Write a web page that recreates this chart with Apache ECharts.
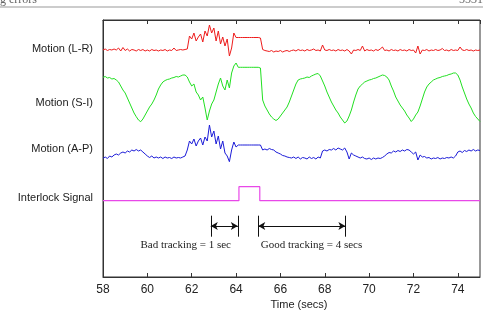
<!DOCTYPE html>
<html>
<head>
<meta charset="utf-8">
<script src="https://cdn.jsdelivr.net/npm/echarts@6/dist/echarts.min.js"></script>
<style>
  html, body { margin: 0; padding: 0; background: #fff; }
  #chart { width: 483px; height: 311px; }
</style>
</head>
<body>
<div id="chart"></div>
<script>
// 数据：每 0.1 s 一个采样点，58.0 ~ 75.0 s，纵坐标为图上读出的道内高度
var redMotion = [
  227, 228, 226.5, 227.5, 227, 228, 227, 229, 226, 229.5,
  226.5, 228, 226, 227.5, 227, 226, 227.5, 226.5, 227.5, 226,
  227, 226, 227.5, 226.5, 227, 226, 227, 226.5, 227.5, 226,
  227, 226.5, 229, 226.5, 227, 227.5, 227, 227.5, 228, 241,
  238, 244, 236, 240, 243, 235, 246, 241, 252, 244,
  249, 236, 246, 233, 240, 231, 238, 221, 229, 244,
  239.5, 239.5, 239.5, 239.5, 239.5, 239.5, 239.5, 239.5, 239.5, 239.5,
  239.5, 239, 227.5, 226.5, 226, 225.5, 226.5, 225, 226, 225.5,
  226.5, 225, 226, 226.5, 225.5, 226.5, 227, 226, 227.5, 226.5,
  227, 226, 227.5, 226.5, 227, 228, 226.5, 227, 226, 232,
  227, 226.5, 227.5, 226.5, 227, 226, 227.5, 226.5, 227, 226,
  227.5, 226, 223, 227, 226.5, 227.5, 226.5, 231, 226, 227.5,
  226.5, 227, 226, 227.5, 226.5, 228, 230, 226.5, 227, 226,
  227.5, 226.5, 227, 226, 227.5, 226.5, 227, 226, 227.5, 226.5,
  227, 224, 231, 223, 227, 226.5, 227.5, 226, 227, 226.5,
  227.5, 226.5, 227, 228.5, 226.5, 227, 226, 227.5, 226.5, 227,
  226.5, 230, 227, 226.5, 227.5, 226.5, 227, 226, 227, 226.5,
  227
];
var greenMotion = [
  199.7, 200.5, 199, 199.5, 198, 198.5, 197, 195, 191, 187,
  184, 179, 174, 169, 164, 160.3, 157, 155.3, 158, 162,
  166, 170, 173, 177, 182, 188, 192, 195, 196.5, 197.5,
  198, 199, 199.5, 200.5, 200, 201, 202, 202, 200, 195,
  191, 193, 185, 182, 177, 180, 169, 157, 166, 173,
  177, 185, 193, 199, 191, 187, 197, 189, 204, 211,
  214, 209.7, 209.7, 209.7, 209.7, 209.7, 209.7, 209.7, 209.7, 209.7,
  209.7, 209, 177, 171, 167, 163, 160, 158, 156.5, 158,
  161, 164, 167, 170, 175, 181, 187, 193, 197, 198,
  198.5, 199, 200, 199.5, 201, 202, 203, 203.5, 201, 196,
  191, 185, 180, 175, 171, 167, 164, 160, 157, 154,
  156, 161, 167, 175, 182, 188, 191, 193, 195, 196,
  197, 197.5, 198.5, 199, 200, 201, 202, 201.5, 200, 197,
  191, 186, 180, 176, 172, 169, 166, 162, 159, 155.5,
  158, 162, 165, 171, 178, 185, 190, 193, 195, 197,
  198, 199, 199.5, 200.5, 201, 201.5, 202.5, 203, 204, 204,
  202, 197, 190, 184, 178, 173, 169, 164, 160.5, 158,
  155.5
];
var blueMotion = [
  118.7, 120, 118.5, 121, 120, 122, 123, 122, 124, 125,
  124, 126, 125, 127, 126, 127.5, 126, 127, 125, 123,
  121, 119.5, 121, 119, 120, 119, 120, 118.5, 120, 119,
  119.5, 118.5, 120, 119, 119.5, 119, 120, 121, 127, 136,
  133, 138, 131, 136, 139, 132, 140, 136, 152, 140,
  146, 133, 141, 128, 136, 124, 121, 115.3, 127, 135,
  130, 132, 132, 132, 132, 132, 132, 132, 132, 132,
  132, 132, 127, 128, 127, 128.5, 127.5, 127, 125, 124,
  123, 121.5, 121, 120, 119.5, 119, 120, 118.5, 120, 118,
  119.5, 119, 118, 120, 118.5, 119.5, 118, 120, 119, 126,
  127, 126, 127.5, 127, 128.5, 127, 129, 128, 127, 129,
  125, 118, 124, 122, 121, 120, 119, 120, 118.5, 118,
  119, 117.5, 119, 118, 119, 118.5, 119.5, 121, 123, 124.5,
  124, 126, 125, 126.5, 125.5, 127, 126, 127.5, 127, 125,
  123, 125, 117, 122, 120, 120.5, 119, 119.5, 118, 119,
  118.5, 119.5, 118, 119, 118.5, 119.5, 119, 120, 119, 121,
  125, 126, 124.5, 126.5, 125.5, 127, 126, 127.5, 126, 127,
  126.5
];
// 联锁信号（阶跃）
var interlockTime = [58, 64.13, 64.13, 65.07, 65.07, 75];
var interlockValue = [76.3, 76.3, 90.3, 90.3, 76.3, 76.3];
// 标注区间
var badTracking = [62.86, 64.08];
var goodTracking = [65.0, 68.93];
var trackLabels = ['Motion (L-R)', 'Motion (S-I)', 'Motion (A-P)', 'Interlock Signal'];

// 采样时间
var times = redMotion.map(function (v, i) { return +(58 + i * 0.1).toFixed(1); });
function pairs(xs, ys) { return xs.map(function (x, i) { return [x, ys[i]]; }); }

var chart = echarts.init(document.getElementById('chart'));

var barTop = 61.3, barBottom = 40.3, arrowY = 51;
function bracket(range) {
  return [
    [{ coord: [range[0], barBottom], symbol: 'none' }, { coord: [range[0], barTop], symbol: 'none' }],
    [{ coord: [range[1], barBottom], symbol: 'none' }, { coord: [range[1], barTop], symbol: 'none' }],
    [{ coord: [range[0], arrowY], symbol: 'arrow' }, { coord: [range[1], arrowY], symbol: 'arrow' }]
  ];
}

var axisFont = 'Liberation Sans, Arial, sans-serif';
var lineBase = { type: 'line', showSymbol: false, symbol: 'none', sampling: null, silent: true };

var option = {
  animation: false,
  backgroundColor: '#fff',
  grid: { left: 103, right: 3, top: 20, bottom: 34, show: true, borderColor: '#333', borderWidth: 1, outerBoundsMode: 'none' },
  xAxis: [{
    type: 'value', min: 58, max: 75, interval: 2, position: 'bottom',
    axisLine: { show: true, lineStyle: { color: '#333', width: 1 } },
    axisTick: { inside: true, length: 4, lineStyle: { color: '#333' } },
    axisLabel: { color: '#222', fontSize: 12, margin: 7, fontFamily: axisFont, showMaxLabel: false },
    splitLine: { show: false }
  }, {
    type: 'value', min: 58, max: 75, interval: 2, position: 'top',
    axisLine: { show: true, lineStyle: { color: '#333', width: 1 } },
    axisTick: { inside: true, length: 4, lineStyle: { color: '#333' } },
    axisLabel: { show: false },
    splitLine: { show: false }
  }],
  yAxis: {
    type: 'value', min: 0, max: 257,
    axisLine: { show: true, lineStyle: { color: '#333' } },
    axisTick: { show: false }, axisLabel: { show: false }, splitLine: { show: false }
  },
  graphic: [
    { type: 'line', shape: { x1: 0, y1: 7, x2: 483, y2: 7 }, style: { stroke: '#999', lineWidth: 1 } },
    { type: 'text', left: 0, top: -6, style: { text: 'g errors', font: '12px "Liberation Serif", serif', fill: '#666' } },
    { type: 'text', right: 0, top: -6, style: { text: '5531', font: '12px "Liberation Serif", serif', fill: '#666' } },
    { type: 'text', x: 93, y: 49, style: { text: trackLabels[0], font: '11px ' + axisFont, fill: '#222', align: 'right', verticalAlign: 'middle' } },
    { type: 'text', x: 93, y: 103, style: { text: trackLabels[1], font: '11px ' + axisFont, fill: '#222', align: 'right', verticalAlign: 'middle' } },
    { type: 'text', x: 93, y: 149, style: { text: trackLabels[2], font: '11px ' + axisFont, fill: '#222', align: 'right', verticalAlign: 'middle' } },
    { type: 'text', x: 93, y: 198, style: { text: trackLabels[3], font: '11px ' + axisFont, fill: '#222', align: 'right', verticalAlign: 'middle' } },
    { type: 'text', x: 299, y: 305, style: { text: 'Time (secs)', font: '11px ' + axisFont, fill: '#222', align: 'center', verticalAlign: 'middle' } }
  ],
  series: [
    Object.assign({}, lineBase, { name: 'L-R', data: pairs(times, redMotion), lineStyle: { color: '#ee1c1c', width: 1 } }),
    Object.assign({}, lineBase, { name: 'S-I', data: pairs(times, greenMotion), lineStyle: { color: '#22e022', width: 1 } }),
    Object.assign({}, lineBase, { name: 'A-P', data: pairs(times, blueMotion), lineStyle: { color: '#1c1cd8', width: 1 } }),
    Object.assign({}, lineBase, {
      name: 'Interlock', data: pairs(interlockTime, interlockValue), lineStyle: { color: '#e848e8', width: 1.2 },
      markLine: {
        silent: true, symbolSize: [6, 7], animation: false,
        lineStyle: { color: '#111', width: 1, type: 'solid' },
        label: { show: false },
        data: bracket(badTracking).concat(bracket(goodTracking))
      },
      markPoint: {
        silent: true, symbol: 'rect', symbolSize: 0,
        label: { show: true, position: 'inside', color: '#222', fontSize: 11, fontFamily: 'Liberation Serif, serif' },
        data: [
          { coord: [61.73, 32], label: { formatter: 'Bad tracking = 1 sec' } },
          { coord: [67.40, 32], label: { formatter: 'Good tracking = 4 secs' } }
        ]
      }
    })
  ]
};
chart.setOption(option);
</script>
</body>
</html>
